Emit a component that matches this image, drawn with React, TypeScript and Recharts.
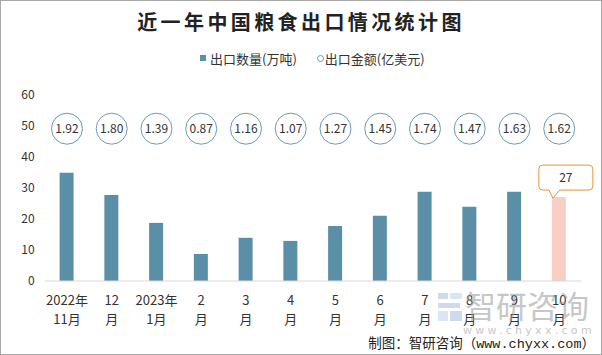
import React from 'react';
import { ComposedChart, Bar, Line, XAxis, YAxis, Cell, LabelList } from 'recharts';

const months = ['2022年11月', '12月', '2023年1月', '2月', '3月', '4月', '5月', '6月', '7月', '8月', '9月', '10月'];
const tickLine1 = ['2022年', '12', '2023年', '2', '3', '4', '5', '6', '7', '8', '9', '10'];
const tickLine2 = ['11月', '月', '1月', '月', '月', '月', '月', '月', '月', '月', '月', '月'];
const exportQty = [34.8, 27.7, 18.7, 8.7, 13.9, 12.9, 17.7, 21.0, 28.7, 23.9, 28.7, 27];
const exportValue = ['1.92', '1.80', '1.39', '0.87', '1.16', '1.07', '1.27', '1.45', '1.74', '1.47', '1.63', '1.62'];
const yTicks = [0, 10, 20, 30, 40, 50, 60];

const data = months.map((m, i) => ({
  month: m,
  line1: tickLine1[i],
  line2: tickLine2[i],
  qty: exportQty[i],
  money: exportValue[i],
}));

const CIRCLE_LEVEL = 49;
const BAR_COLOR = '#5b8fa8';
const HIGHLIGHT_COLOR = '#f8cfc6';
const FONT = '"Noto Sans CJK SC", "Noto Sans", sans-serif';

const XTick = (props: any) => {
  const { x, y, payload, index } = props;
  const d = data[index] || data.find((e) => e.month === payload.value);
  if (!d) return null;
  return (
    <g>
      <text x={x} y={y + 15.5} textAnchor="middle" fontSize={13} fill="#333" fontFamily={FONT}>{d.line1}</text>
      <text x={x} y={y + 34.5} textAnchor="middle" fontSize={13} fill="#333" fontFamily={FONT}>{d.line2}</text>
    </g>
  );
};

const MoneyDot = (props: any) => {
  const { cx, cy, payload, index } = props;
  if (cx == null || cy == null) return null;
  return (
    <g key={`dot-${index}`}>
      <circle cx={cx} cy={cy} r={15.5} fill="#fff" stroke="#6a9bb1" strokeWidth={1} />
      <text x={cx} y={cy + 4.3} textAnchor="middle" fontSize={12} fill="#333" fontFamily={FONT}>{payload.money}</text>
    </g>
  );
};

const Callout = (props: any) => {
  const { x, y, width, value, index } = props;
  if (index !== data.length - 1) return null;
  const cx = Number(x) + Number(width) / 2;
  const top = Number(y);
  const l = cx - 20;
  const r = cx + 34;
  const t = top - 32;
  const b = top - 7;
  const rad = 4;
  const path = `M${l + rad},${t} L${r - rad},${t} Q${r},${t} ${r},${t + rad} L${r},${b - rad} Q${r},${b} ${r - rad},${b} L${cx + 1},${b} L${cx - 6},${top + 1} L${cx - 10},${b} L${l + rad},${b} Q${l},${b} ${l},${b - rad} L${l},${t + rad} Q${l},${t} ${l + rad},${t} Z`;
  return (
    <g>
      <path d={path} fill="#fff" stroke="#e8913a" strokeWidth={1} />
      <text x={(l + r) / 2} y={(t + b) / 2 + 4.5} textAnchor="middle" fontSize={12} fill="#333" fontFamily={FONT}>{value}</text>
    </g>
  );
};

export default function App() {
  return (
    <div style={{ position: 'absolute', left: 0, top: 0, width: 602, height: 355, background: '#fff', fontFamily: FONT }}>
      <ComposedChart
        width={602}
        height={355}
        data={data}
        margin={{ top: 94.5, right: 20.4, bottom: 44, left: 4.6 }}
      >
        <XAxis
          dataKey="month"
          height={30}
          axisLine={{ stroke: '#d9d9d9' }}
          tickLine={false}
          interval={0}
          tick={<XTick />}
        />
        <YAxis
          width={40}
          domain={[0, 60]}
          ticks={yTicks}
          axisLine={false}
          tickLine={false}
          tickMargin={4}
          tick={{ fontSize: 12, fill: '#333', fontFamily: FONT }}
        />
        <Bar dataKey="qty" barSize={14} isAnimationActive={false}>
          {data.map((d, i) => (
            <Cell key={d.month} fill={i === data.length - 1 ? HIGHLIGHT_COLOR : BAR_COLOR} />
          ))}
          <LabelList dataKey="qty" content={<Callout />} />
        </Bar>
        <Line
          dataKey={() => CIRCLE_LEVEL}
          stroke="none"
          dot={<MoneyDot />}
          activeDot={false}
          isAnimationActive={false}
        />
      </ComposedChart>

      <div style={{ position: 'absolute', left: 0, top: 10, width: 602, textAlign: 'center', fontSize: 20, fontWeight: 'bold', color: '#222', letterSpacing: 3.4, lineHeight: '24px' }}>
        近一年中国粮食出口情况统计图
      </div>

      <div style={{ position: 'absolute', left: 200, top: 49, height: 18, display: 'flex', alignItems: 'center', fontSize: 13, color: '#333', whiteSpace: 'nowrap' }}>
        <span style={{ display: 'inline-block', width: 6, height: 6, background: BAR_COLOR, marginRight: 4 }} />
        <span>出口数量(万吨)</span>
        <span style={{ display: 'inline-block', width: 5, height: 5, border: '1px solid #6a9bb1', borderRadius: '50%', marginLeft: 20, marginRight: 1 }} />
        <span>出口金额(亿美元)</span>
      </div>

      <svg width={602} height={355} style={{ position: 'absolute', left: 0, top: 0, pointerEvents: 'none' }}>
        <g opacity={0.55}>
          <rect x={438} y={293} width={10} height={6} fill="#a9bfdc" />
          <rect x={450} y={293} width={12} height={6} fill="#bcd3ea" />
          <rect x={438} y={303} width={22} height={5} fill="#a9bfdc" />
          <rect x={438} y={311} width={10} height={10} fill="#bcd3ea" />
          <rect x={450} y={311} width={12} height={10} fill="#a9bfdc" />
          <text x={527} y={318} textAnchor="middle" fontSize={31} fill="#9a9a9a" fontFamily={FONT}>智研咨询</text>
          <text x={463} y={334} textAnchor="start" fontSize={11} fill="#9a9a9a" letterSpacing={3.3} fontFamily='"DejaVu Sans", sans-serif'>www.chyxx.com</text>
        </g>
        <text x={595} y={348} textAnchor="end" fontSize={13.5} fill="#222" fontFamily='"Liberation Mono", "Noto Sans CJK SC", monospace'>制图：智研咨询（www.chyxx.com）</text>
      </svg>

      <div style={{ position: 'absolute', left: 0, top: 0, width: 602, height: 355, boxSizing: 'border-box', border: '1px solid #a8a8a8', pointerEvents: 'none' }} />
    </div>
  );
}
